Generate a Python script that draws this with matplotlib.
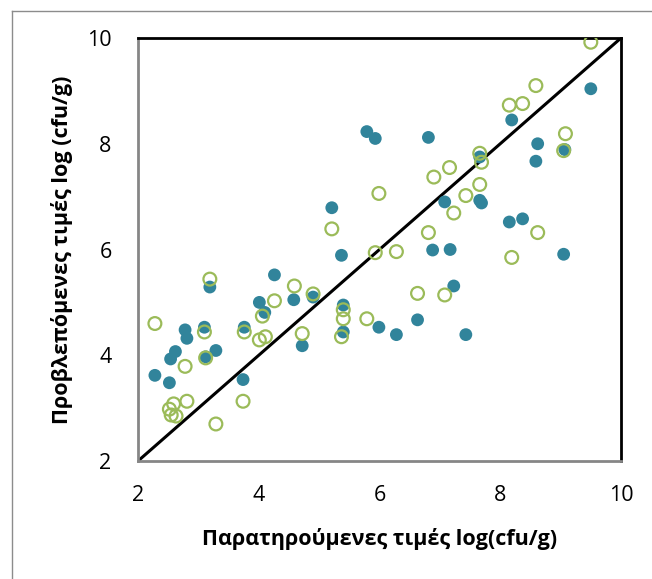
import matplotlib
matplotlib.use("Agg")
import matplotlib.pyplot as plt
from matplotlib.lines import Line2D

# Filled (teal) series: observed, predicted
obs_a = [9.50, 8.19, 8.62, 8.59, 9.07, 7.66, 6.81, 5.79, 5.93, 7.08, 7.66, 7.69,
         8.15, 8.37, 9.05, 6.88, 7.17, 7.23, 5.21, 5.37, 4.26, 3.19, 4.01, 4.10,
         4.58, 4.90, 5.40, 5.40, 5.99, 6.28, 6.63, 7.43, 4.72, 3.76, 3.74, 3.29,
         3.10, 3.12, 2.78, 2.81, 2.62, 2.54, 2.52, 2.28]
pred_a = [9.04, 8.45, 8.00, 7.67, 7.89, 7.75, 8.12, 8.23, 8.10, 6.90, 6.93, 6.88,
          6.52, 6.58, 5.91, 5.99, 6.00, 5.31, 6.79, 5.89, 5.52, 5.29, 5.00, 4.81,
          5.05, 5.10, 4.95, 4.44, 4.53, 4.39, 4.67, 4.39, 4.18, 4.53, 3.54, 4.09,
          4.53, 3.97, 4.48, 4.32, 4.07, 3.93, 3.48, 3.62]

# Open (green) series: observed, predicted
obs_b = [9.50, 8.59, 8.15, 8.37, 9.08, 9.05, 7.66, 7.69, 7.66, 7.43, 7.16, 6.90,
         5.99, 7.23, 6.81, 8.62, 8.19, 5.93, 6.28, 5.21, 6.63, 7.08, 5.79, 5.40,
         5.40, 5.37, 4.90, 4.59, 4.26, 4.06, 4.01, 4.11, 4.72, 3.76, 3.74, 3.19,
         3.10, 3.12, 2.78, 2.81, 3.29, 2.28, 2.52, 2.59, 2.55, 2.63]
pred_b = [9.92, 9.10, 8.73, 8.76, 8.19, 7.87, 7.82, 7.65, 7.23, 7.02, 7.55, 7.37,
          7.06, 6.69, 6.32, 6.32, 5.85, 5.94, 5.96, 6.39, 5.17, 5.14, 4.69, 4.86,
          4.69, 4.35, 5.16, 5.31, 5.03, 4.74, 4.29, 4.35, 4.41, 4.44, 3.13, 5.44,
          4.44, 3.95, 3.79, 3.13, 2.70, 4.60, 2.98, 3.08, 2.87, 2.85]

ticks = [2, 4, 6, 8, 10]
xlabel = "Παρατηρούμενες τιμές log(cfu/g)"
ylabel = "Προβλεπόμενες τιμές log (cfu/g)"

teal = "#31849B"
green = "#9BBB59"
font = ["Open Sans", "DejaVu Sans"]

fig = plt.figure(figsize=(6.52, 5.79), dpi=100)
ax = fig.add_axes([138/652, 1-461/579, 483/652, 423/579])

# outer chart border
fig.add_artist(Line2D([12/652, 12/652], [0, 1-11/579], color="#8c8c8c", lw=1.0, transform=fig.transFigure))
fig.add_artist(Line2D([12/652, 1], [1-11/579, 1-11/579], color="#8c8c8c", lw=1.0, transform=fig.transFigure))

ax.plot([2, 10], [2, 10], color="black", lw=2.2, zorder=2)
ax.scatter(obs_a, pred_a, s=85, color=teal, edgecolors="none", zorder=3)
ax.scatter(obs_b, pred_b, s=85, facecolors="none", edgecolors=green, linewidths=1.6, zorder=4)

ax.set_xlim(2, 10)
ax.set_ylim(2, 10)
ax.set_xticks(ticks)
ax.set_yticks(ticks)
ax.set_xticklabels([str(t) for t in ticks], fontsize=15.5, family=font)
ax.set_yticklabels([str(t) for t in ticks], fontsize=15.5, family=font)
ax.tick_params(length=0, pad=0)
ax.tick_params(axis="x", pad=17)
ax.tick_params(axis="y", pad=19)

for s in ["left", "bottom"]:
    ax.spines[s].set_color("#868686")
    ax.spines[s].set_linewidth(2.0)
for s in ["top", "right"]:
    ax.spines[s].set_color("black")
    ax.spines[s].set_linewidth(2.0)

ax.set_xlabel(xlabel, fontsize=15.5, fontweight="bold", family=font, labelpad=16)
ax.set_ylabel(ylabel, fontsize=15.5, fontweight="bold", family=font, labelpad=10)

fig.savefig("out.png", dpi=100)
